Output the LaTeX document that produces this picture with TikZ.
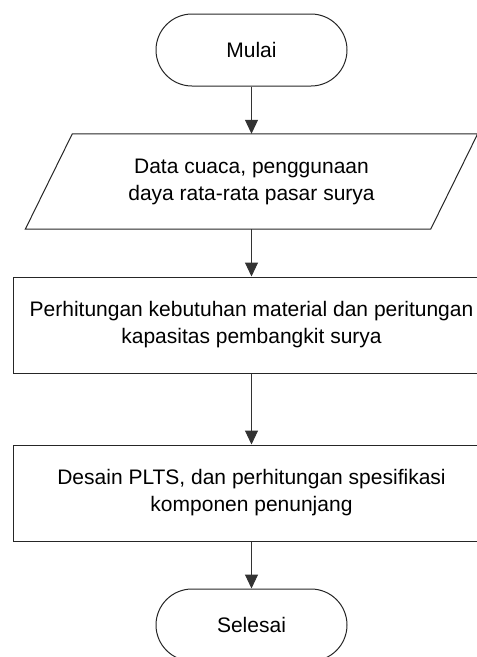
\documentclass[tikz,border=0pt]{standalone}
\usepackage{fontspec}
\setmainfont{Liberation Sans}
\usetikzlibrary{arrows.meta,calc}
\begin{document}
\begin{tikzpicture}[x=1pt,y=-1pt,
  every node/.style={font=\fontsize{21}{27}\selectfont, align=center, inner sep=0pt},
  terminal/.style={draw=black!85, line width=1pt, rounded corners=36pt, minimum width=191pt, minimum height=72pt},
  procbox/.style={draw=black!85, line width=1pt, minimum width=477pt, minimum height=96pt},
  iobox/.style={minimum width=405pt, minimum height=95pt},
  flow/.style={draw=black!80, line width=1pt, -{Triangle[width=13pt,length=14pt]}}
]
\useasboundingbox (0,0) rectangle (477,657);
\begin{scope}
\clip (0,0) rectangle (477,657);
\node[terminal] (start) at (251.5,50) {Mulai};
\node[iobox] (data) at (251.5,181.5) {Data cuaca, penggunaan\\daya rata-rata pasar surya};
\draw[draw=black!85, line width=1pt]
  ($(data.north west)+(23.5,0)$) -- ($(data.north east)+(23.5,0)$)
  -- ($(data.south east)+(-23.5,0)$) -- ($(data.south west)+(-23.5,0)$) -- cycle;
\node[procbox] (calc) at (251.5,325) {Perhitungan kebutuhan material dan peritungan\\kapasitas pembangkit surya};
\node[procbox] (design) at (251.5,493) {Desain PLTS, dan perhitungan spesifikasi\\komponen penunjang};
\node[terminal] (end) at (251.5,625) {Selesai};
\draw[flow] (start) -- (data.north);
\draw[flow] (data.south) -- (calc);
\draw[flow] (calc) -- (design);
\draw[flow] (design) -- (end);
\end{scope}
\end{tikzpicture}
\end{document}
